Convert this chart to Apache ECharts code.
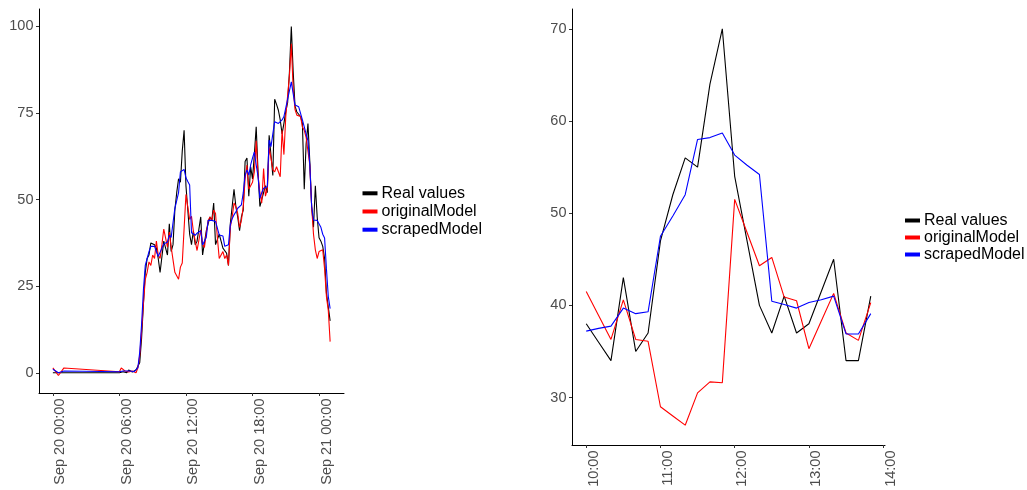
<!DOCTYPE html>
<html>
<head>
<meta charset="utf-8">
<script src="https://cdn.jsdelivr.net/npm/echarts@6/dist/echarts.min.js"></script>
<style>
  html, body { margin: 0; padding: 0; background: #ffffff; }
  #chart { width: 1027px; height: 490px; }
</style>
</head>
<body>
<div id="chart"></div>
<script>
// Sample times in minutes after Sep 20 00:00: three night readings, then every 10 minutes from 06:00 to 01:00
const sampleMinutes = [0, 30, 60];
for (let m = 360; m <= 1500; m += 10) sampleMinutes.push(m);

const realValues = [
  0, 0, 0,
  0, 0.5, 0.3, 0, 0, 0.8,            // 06:00
  0.5, 0.2, 0.5, 0.8, 1, 3,          // 07:00
  10, 20, 29, 33, 34, 37.5,          // 08:00
  38, 37, 36, 33, 29, 33.5,          // 09:00
  38, 36, 34, 43, 35, 37,            // 10:00
  47, 52, 56, 55, 64, 70,            // 11:00
  54, 47, 40, 37, 41, 37,            // 12:00
  38, 41.5, 45, 34, 34, 41,          // 13:00
  43, 45, 44, 49, 37, 37,            // 14:00
  40, 38, 36, 36.5, 34.5, 31,        // 15:00
  43, 48, 53, 48, 45, 41,            // 16:00
  45, 47, 61, 62, 51, 59.5,          // 17:00
  56, 63, 71, 58, 48, 48,            // 18:00
  52, 54, 52, 68.6, 68.6, 57,        // 19:00
  79, 77.5, 75.8, 73, 69, 72,        // 20:00
  75.5, 78, 87, 100, 87, 77,         // 21:00
  75.3, 75, 74, 72, 53, 66,          // 22:00
  72, 61, 48, 42, 54, 45,            // 23:00
  39, 38, 36.5, 33, 23, 19,          // 00:00
  15                                 // 01:00
];

const originalModel = [
  1.4, -0.8, 1.4,
  0.3, 1.4, 1.0, 0.5, 0.2, 0.2,
  0, 0.5, 0.3, 0, 1.4, 5,
  12, 20, 27, 29, 32, 31,
  34, 33, 38, 34, 33, 37,
  41.5, 38.9, 36.3, 40.6, 36.3, 36.1,
  29, 28, 27, 30.5, 31.7, 31.6,
  51.5, 47.9, 44.3, 45.2, 40.9, 40.5,
  35.3, 38.3, 41.3, 37, 36.2, 40.3,
  44, 45, 44, 47, 46, 39,
  33, 33.5, 35, 33, 34, 31,
  42, 45, 49, 48, 46, 42,
  44, 48, 56, 60, 53, 54,
  55, 58, 67, 57, 52, 49,
  59, 51, 53, 65, 62, 58.6,
  58, 59.5, 59, 56.6, 70, 63,
  74, 80, 86, 95, 82, 76,
  74.4, 74.4, 74, 71, 70, 68,
  68, 60, 48, 40, 35.5, 33,
  35, 35, 35.5, 30, 22, 18,
  9
];

const scrapedModel = [
  1.0, 0, 0.5,
  0.3, 0.3, 0.5, 0.3, 0.5, 0.3,
  0.5, 0.5, 0.3, 0.8, 1.5, 6,
  14, 24, 31, 33, 35, 36.5,
  36.5, 36.5, 35, 33.6, 33.6, 36,
  37.2, 37.5, 37.75, 39.7, 39.1, 39.3,
  47.5, 49.7, 52, 58, 58.2, 58.7,
  56.3, 55.2, 54.2, 40.45, 40.1, 39.7,
  40.3, 40.6, 41, 36.9, 36.9, 39.1,
  44, 44.3, 44, 43.7, 43.7, 43.5,
  39.8, 39.6, 39.5, 36.5, 36, 37,
  42.7, 44.5, 45.6, 46.5, 47.5, 48,
  48.5, 52, 57, 58.6, 57.1, 60,
  62, 63.8, 60, 56.6, 50.4, 52,
  53.3, 53.5, 53.7, 67.2, 65.3, 69,
  72.5, 72.5, 72, 72, 73, 74,
  76.5, 79, 81.5, 84, 80.6, 77.3,
  77, 76.8, 76.5, 73, 71, 69,
  67, 60, 48, 44.1, 44.6, 44,
  43.7, 42, 40, 38.9, 30, 22,
  18.5
];

const seriesNames = ['Real values', 'originalModel', 'scrapedModel'];
const seriesValues = [realValues, originalModel, scrapedModel];
const seriesColors = ['#000000', '#ff0000', '#0000ff'];

// Axis ticks (minutes after Sep 20 00:00 for the time axes)
const fullDayTicks = [0, 360, 720, 1080, 1440];
const fullDayValueTicks = [0, 25, 50, 75, 100];
const detailTimeTicks = [600, 660, 720, 780, 840];
const detailValueTicks = [30, 40, 50, 60, 70];
// Window shown in the right-hand panel
const detailStart = 600, detailEnd = 830;

const FONT = 'Liberation Sans, Arial, sans-serif';
const pad = n => String(n).padStart(2, '0');
const fmtFull = m => {
  const day = 20 + Math.floor(m / 1440);
  const r = ((m % 1440) + 1440) % 1440;
  return 'Sep ' + day + ' ' + pad(Math.floor(r / 60)) + ':' + pad(r % 60);
};
const fmtClock = m => pad(Math.floor(m / 60) % 24) + ':' + pad(m % 60);

// ggplot-style 5% expansion of a data range
function expand(lo, hi) { const d = (hi - lo) * 0.05; return [lo - d, hi + d]; }

const allVals = [].concat(...seriesValues);
const fullY = expand(Math.min(...allVals), Math.max(...allVals));
const fullX = expand(sampleMinutes[0], sampleMinutes[sampleMinutes.length - 1]);

const detailIdx = sampleMinutes.map((m, i) => (m >= detailStart && m <= detailEnd) ? i : -1).filter(i => i >= 0);
const detailVals = [].concat(...seriesValues.map(v => detailIdx.map(i => v[i])));
const detailY = expand(Math.min(...detailVals), Math.max(...detailVals));
const detailX = expand(detailStart, detailEnd);

const axisLineStyle = { color: '#000000', width: 1 };
const tickStyle = { color: '#333333', width: 1 };
const labelBase = { color: '#4d4d4d', fontSize: 14.5, fontFamily: FONT };

function xAxis(gridIndex, range, ticks, fmt) {
  return {
    type: 'value', gridIndex, min: range[0], max: range[1],
    axisLine: { show: true, onZero: false, lineStyle: axisLineStyle },
    axisTick: { show: true, length: 3, lineStyle: tickStyle, customValues: ticks },
    axisLabel: Object.assign({}, labelBase, {
      rotate: 90, margin: 5.5, verticalAlign: 'top', customValues: ticks, formatter: v => fmt(v)
    }),
    splitLine: { show: false }
  };
}
function yAxis(gridIndex, range, ticks) {
  return {
    type: 'value', gridIndex, min: range[0], max: range[1],
    axisLine: { show: true, onZero: false, lineStyle: axisLineStyle },
    axisTick: { show: true, length: 3, lineStyle: tickStyle, customValues: ticks },
    axisLabel: Object.assign({}, labelBase, { margin: 5.5, customValues: ticks, formatter: v => String(v) }),
    splitLine: { show: false }
  };
}

const series = [];
seriesNames.forEach((name, k) => {
  series.push({
    name, type: 'line', xAxisIndex: 0, yAxisIndex: 0,
    data: sampleMinutes.map((m, i) => [m, seriesValues[k][i]]),
    showSymbol: false, symbol: 'none', lineStyle: { color: seriesColors[k], width: 1.1 },
    itemStyle: { color: seriesColors[k] }, emphasis: { disabled: true }, silent: true
  });
});
seriesNames.forEach((name, k) => {
  series.push({
    name, type: 'line', xAxisIndex: 1, yAxisIndex: 1,
    data: detailIdx.map(i => [sampleMinutes[i], seriesValues[k][i]]),
    showSymbol: false, symbol: 'none', lineStyle: { color: seriesColors[k], width: 1.1 },
    itemStyle: { color: seriesColors[k] }, emphasis: { disabled: true }, silent: true
  });
});

function legend(left, top, gap) {
  return {
    orient: 'vertical', left, top, itemGap: gap, padding: 0,
    icon: 'rect', itemWidth: 15, itemHeight: 4,
    selectedMode: false,
    data: seriesNames.map((n, k) => ({ name: n, itemStyle: { color: seriesColors[k] } })),
    textStyle: { color: '#000000', fontSize: 16, fontFamily: FONT, lineHeight: 16, padding: [0, 0, 0, -1] }
  };
}

const chart = echarts.init(document.getElementById('chart'), null, { renderer: 'canvas' });
chart.setOption({
  animation: false,
  backgroundColor: '#ffffff',
  grid: [
    { left: 39, top: 9, width: 305, height: 384, containLabel: false, outerBoundsMode: 'none' },
    { left: 572, top: 9, width: 313, height: 436, containLabel: false, outerBoundsMode: 'none' }
  ],
  xAxis: [xAxis(0, fullX, fullDayTicks, fmtFull), xAxis(1, detailX, detailTimeTicks, fmtClock)],
  yAxis: [yAxis(0, fullY, fullDayValueTicks), yAxis(1, detailY, detailValueTicks)],
  legend: [legend(362.5, 185.3, 2.2), legend(905, 212.5, 1)],
  series
});
</script>
</body>
</html>
